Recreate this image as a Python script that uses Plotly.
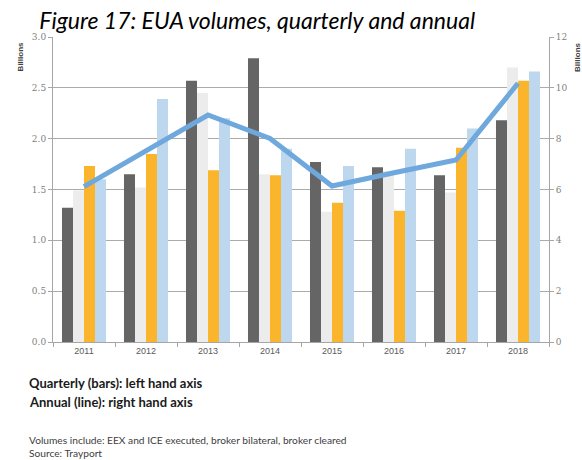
import plotly.graph_objects as go

years = ["2011", "2012", "2013", "2014", "2015", "2016", "2017", "2018"]
q1 = [1.32, 1.65, 2.57, 2.79, 1.77, 1.72, 1.64, 2.18]
q2 = [1.49, 1.52, 2.45, 1.65, 1.28, 1.68, 1.47, 2.70]
q3 = [1.73, 1.85, 1.69, 1.64, 1.37, 1.29, 1.91, 2.57]
q4 = [1.60, 2.39, 2.20, 1.90, 1.73, 1.90, 2.10, 2.66]
annual = [6.11, 7.53, 8.93, 8.01, 6.14, 6.66, 7.16, 10.18]

bar_colors = ["#656565", "#ececec", "#fbb52c", "#bdd7ee"]
quarters = [q1, q2, q3, q4]
qnames = ["Q1", "Q2", "Q3", "Q4"]

fig = go.Figure()
for name, vals, col in zip(qnames, quarters, bar_colors):
    fig.add_trace(go.Bar(x=years, y=vals, name=name, marker=dict(color=col, line=dict(width=0)),
                         yaxis="y"))
fig.add_trace(go.Scatter(x=years, y=annual, name="Annual", mode="lines",
                         line=dict(color="#6fa8dc", width=5), yaxis="y2"))

tickfont_serif = dict(family="DejaVu Serif, Liberation Serif, serif", size=9, color="#7f7f7f")

fig.update_layout(
    width=582, height=460,
    margin=dict(l=53, r=33, t=37, b=118),
    paper_bgcolor="white", plot_bgcolor="white",
    showlegend=False,
    barmode="group", bargap=0.29, bargroupgap=0,
    xaxis=dict(type="category", showgrid=False, showline=True, linecolor="#a6a6a6", linewidth=1,
               ticks="outside", tickson="boundaries", ticklen=4, tickcolor="#a6a6a6",
               tickfont=dict(family="Liberation Sans, Arial, sans-serif", size=9, color="#595959"),
               range=[-0.5, 7.5]),
    yaxis=dict(range=[0, 3.0], dtick=0.5, tickformat=".1f", showgrid=True, gridcolor="#ababab",
               gridwidth=1, showline=True, linecolor="#a6a6a6", ticks="outside", ticklen=4,
               tickcolor="#a6a6a6", tickfont=tickfont_serif, zeroline=False),
    yaxis2=dict(range=[0, 12], dtick=2, overlaying="y", side="right", showgrid=False,
                showline=True, linecolor="#a6a6a6", ticks="outside", ticklen=4,
                tickcolor="#a6a6a6", tickfont=tickfont_serif, zeroline=False),
    title=dict(text="<i>Figure 17: EUA volumes, quarterly and annual</i>",
               font=dict(family="Lato, Open Sans, sans-serif", size=23, color="#000000"),
               x=0.442, xanchor="center", y=0.955, yanchor="middle"),
)

fig.add_annotation(text="<b>Billions</b>", xref="paper", yref="paper", x=-0.066, y=0.934,
                   textangle=-90, showarrow=False,
                   font=dict(family="Liberation Sans, Arial, sans-serif", size=8, color="#404040"),
                   xanchor="center", yanchor="middle")
fig.add_annotation(text="<b>Billions</b>", xref="paper", yref="paper", x=1.056, y=0.934,
                   textangle=-90, showarrow=False,
                   font=dict(family="Liberation Sans, Arial, sans-serif", size=8, color="#404040"),
                   xanchor="center", yanchor="middle")

fig.add_annotation(text="<b>Quarterly (bars): left hand axis</b>", xref="paper", yref="paper",
                   x=-0.052, y=-0.134, xanchor="left", yanchor="middle", showarrow=False,
                   font=dict(family="Lato, Open Sans, sans-serif", size=13, color="#1a1a1a"))
fig.add_annotation(text="<b>Annual (line): right hand axis</b>", xref="paper", yref="paper",
                   x=-0.052, y=-0.197, xanchor="left", yanchor="middle", showarrow=False,
                   font=dict(family="Lato, Open Sans, sans-serif", size=13, color="#1a1a1a"))
fig.add_annotation(text="Volumes include: EEX and ICE executed, broker bilateral, broker cleared",
                   xref="paper", yref="paper", x=-0.052, y=-0.321, xanchor="left", yanchor="middle",
                   showarrow=False, font=dict(family="Lato, Open Sans, sans-serif", size=10.2, color="#404040"))
fig.add_annotation(text="Source: Trayport",
                   xref="paper", yref="paper", x=-0.052, y=-0.364, xanchor="left", yanchor="middle",
                   showarrow=False, font=dict(family="Lato, Open Sans, sans-serif", size=10.2, color="#404040"))

# remove the default page margin so the 582x460 figure fills the window exactly
fig.write_html("out.html", post_script="document.body.style.margin='0';",
               config={"displayModeBar": False})
